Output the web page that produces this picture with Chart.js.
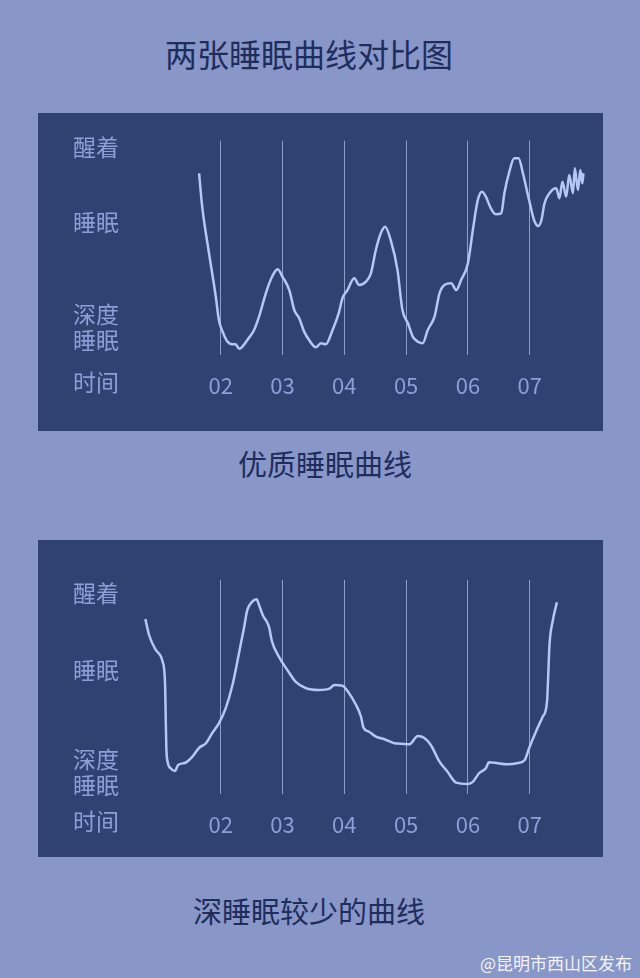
<!DOCTYPE html>
<html>
<head>
<meta charset="utf-8">
<script src="https://cdn.jsdelivr.net/npm/chart.js@4.4.0/dist/chart.umd.min.js"></script>
<style>
body { margin:0; width:640px; height:978px; background:#8896c8; position:relative; overflow:hidden; font-family:"Noto Sans CJK SC", sans-serif; }
.t { position:absolute; text-align:center; line-height:1; color:#1e2d5c; white-space:nowrap; }
.panel { position:absolute; left:38px; width:565px; background:#2f4272; }
</style>
</head>
<body>
<div class="t" style="left:0;width:618px;top:37px;font-size:32px">两张睡眠曲线对比图</div>
<div class="panel" style="top:113px;height:318px"><canvas id="good"></canvas></div>
<div class="t" style="left:0;width:650px;top:449px;font-size:29px">优质睡眠曲线</div>
<div class="panel" style="top:540px;height:317px"><canvas id="light"></canvas></div>
<div class="t" style="left:0;width:618px;top:896px;font-size:29px">深睡眠较少的曲线</div>
<div class="t" style="right:8px;top:954px;font-size:17px;color:#f2f4fa">@昆明市西山区发布</div>
<script>
var hourTicks = [2, 3, 4, 5, 6, 7];
var hourLabels = ['02', '03', '04', '05', '06', '07'];
var levelNames = ['醒着', '睡眠', ['深度', '睡眠']];

// 优质睡眠曲线
var goodHours = [1.65, 1.70, 1.81, 1.92, 1.97, 2.03, 2.11, 2.19, 2.24, 2.30, 2.35, 2.43, 2.54, 2.62, 2.73, 2.83, 2.92, 3.00, 3.11, 3.19,
    3.27, 3.35, 3.43, 3.54, 3.62, 3.70, 3.81, 3.91, 3.97, 4.05, 4.16, 4.24, 4.35, 4.43, 4.51, 4.59, 4.66, 4.75, 4.86, 4.94,
    5.03, 5.11, 5.19, 5.27, 5.35, 5.46, 5.54, 5.62, 5.73, 5.81, 5.89, 6.00, 6.08, 6.16, 6.23, 6.29, 6.37, 6.45, 6.54, 6.59,
    6.67, 6.75, 6.82, 6.89, 6.99, 7.07, 7.14, 7.19, 7.24, 7.32, 7.43, 7.48, 7.53, 7.59, 7.64, 7.70, 7.73, 7.78, 7.82, 7.85, 7.87];
var goodDepth = [84.8, 69.2, 47.6, 27.2, 16.3, 10.9, 6.2, 5.0, 5.0, 2.9, 3.9, 7.0, 11.7, 17.9, 28.8, 36.5, 40.0, 36.5, 30.3, 21.0,
    17.1, 10.9, 7.0, 3.6, 5.5, 5.0, 11.7, 19.5, 26.5, 30.3, 35.8, 32.7, 34.2, 38.1, 49.0, 56.8, 59.9, 53.7, 39.7, 21.0,
    14.8, 8.5, 6.2, 5.5, 11.7, 17.9, 28.8, 32.7, 33.5, 30.3, 35.0, 42.8, 58.3, 72.3, 76.2, 73.9, 68.5, 65.7, 66.1, 75.5,
    85.5, 91.8, 91.8, 84.8, 72.3, 63.0, 60.2, 63.0, 70.8, 75.5, 77.8, 73.1, 80.9, 73.9, 84.0, 75.5, 87.1, 77.0, 86.3, 80.1, 84.8];
var goodLevels = [97, 62, 13];

// 深睡眠较少的曲线
var lightHours = [0.78, 0.84, 0.95, 1.06, 1.10, 1.11, 1.12, 1.14, 1.19, 1.26, 1.31, 1.43, 1.54, 1.65, 1.76, 1.86, 1.97, 2.08, 2.19, 2.30,
    2.38, 2.43, 2.51, 2.58, 2.62, 2.68, 2.78, 2.83, 2.94, 3.08, 3.21, 3.38, 3.59, 3.75, 3.84, 3.97, 4.06, 4.19, 4.27, 4.31,
    4.40, 4.51, 4.65, 4.81, 4.97, 5.05, 5.19, 5.29, 5.40, 5.54, 5.67, 5.81, 6.00, 6.08, 6.18, 6.29, 6.34, 6.43, 6.64, 6.81,
    6.92, 6.99, 7.10, 7.21, 7.28, 7.30, 7.32, 7.37, 7.44];
var lightDepth = [81.8, 74.3, 67.3, 61.8, 50.9, 35.4, 21.4, 15.1, 12.0, 10.7, 13.6, 14.6, 17.4, 21.6, 23.7, 28.4, 33.0, 40.0, 50.9, 66.5,
    78.2, 86.0, 89.9, 91.0, 88.3, 83.6, 78.2, 71.2, 64.2, 57.9, 52.5, 49.4, 48.6, 49.1, 50.9, 50.6, 47.8, 41.6, 36.1, 31.0,
    29.1, 26.8, 25.6, 23.7, 23.4, 23.2, 27.1, 26.3, 22.9, 15.1, 10.4, 5.3, 4.7, 5.7, 9.7, 12.0, 14.8, 14.6, 13.9, 14.5,
    15.9, 21.4, 29.1, 36.1, 43.1, 55.6, 69.6, 80.5, 89.6];
var lightLevels = [94, 58, 10];

var labelColor = '#8e9fd8';
var lineColor = '#b4c8f5';
var gridColor = 'rgba(175, 190, 230, 0.75)';
var fontName = '"Noto Sans CJK SC", sans-serif';

var timeLabel = {
    id: 'timeLabel',
    afterDraw: function(chart) {
        var ctx = chart.ctx, sx = chart.scales.x, sy = chart.scales.y;
        ctx.save();
        ctx.font = '23px ' + fontName;
        ctx.fillStyle = labelColor;
        ctx.textAlign = 'left';
        ctx.textBaseline = 'top';
        ctx.fillText('时间', sy.left, sx.top + sx.options.ticks.padding - 1);
        ctx.restore();
    }
};

function makeChart(id, hours, depth, levels, padTop, axisHeight) {
    var points = [];
    for (var i in hours) {
        points.push({x: hours[i], y: depth[i]});
    }
    return new Chart(document.getElementById(id), {
        type: 'line',
        data: {
            datasets: [{
                data: points,
                borderColor: lineColor,
                borderWidth: 2.5,
                pointRadius: 0,
                cubicInterpolationMode: 'monotone',
                fill: false
            }]
        },
        options: {
            responsive: true,
            maintainAspectRatio: false,
            animation: false,
            events: [],
            layout: { padding: { left: 35, right: 11.5, top: padTop, bottom: 0 } },
            plugins: { legend: { display: false }, tooltip: { enabled: false } },
            scales: {
                x: {
                    type: 'linear', min: 0.7, max: 8,
                    afterBuildTicks: function(s) { s.ticks = hourTicks.map(function(v) { return {value: v}; }); },
                    afterFit: function(s) { s.height = axisHeight; },
                    ticks: {
                        padding: 17, color: labelColor, autoSkip: false, maxRotation: 0,
                        font: { size: 22, family: fontName },
                        callback: function(v, i) { return hourLabels[i]; }
                    },
                    grid: { color: gridColor, lineWidth: 1, drawTicks: false },
                    border: { display: false }
                },
                y: {
                    min: 0, max: 100,
                    afterBuildTicks: function(s) { s.ticks = levels.map(function(v) { return {value: v}; }); },
                    afterFit: function(s) { s.width = 67.4; },
                    ticks: {
                        crossAlign: 'far', padding: 0, color: labelColor, autoSkip: false,
                        font: { size: 23, family: fontName, lineHeight: 1.13 },
                        callback: function(v, i) { return levelNames[i]; }
                    },
                    grid: { display: false },
                    border: { display: false }
                }
            }
        },
        plugins: [timeLabel]
    });
}

makeChart('good', goodHours, goodDepth, goodLevels, 27.7, 76);
makeChart('light', lightHours, lightDepth, lightLevels, 40, 63);
</script>
</body>
</html>
